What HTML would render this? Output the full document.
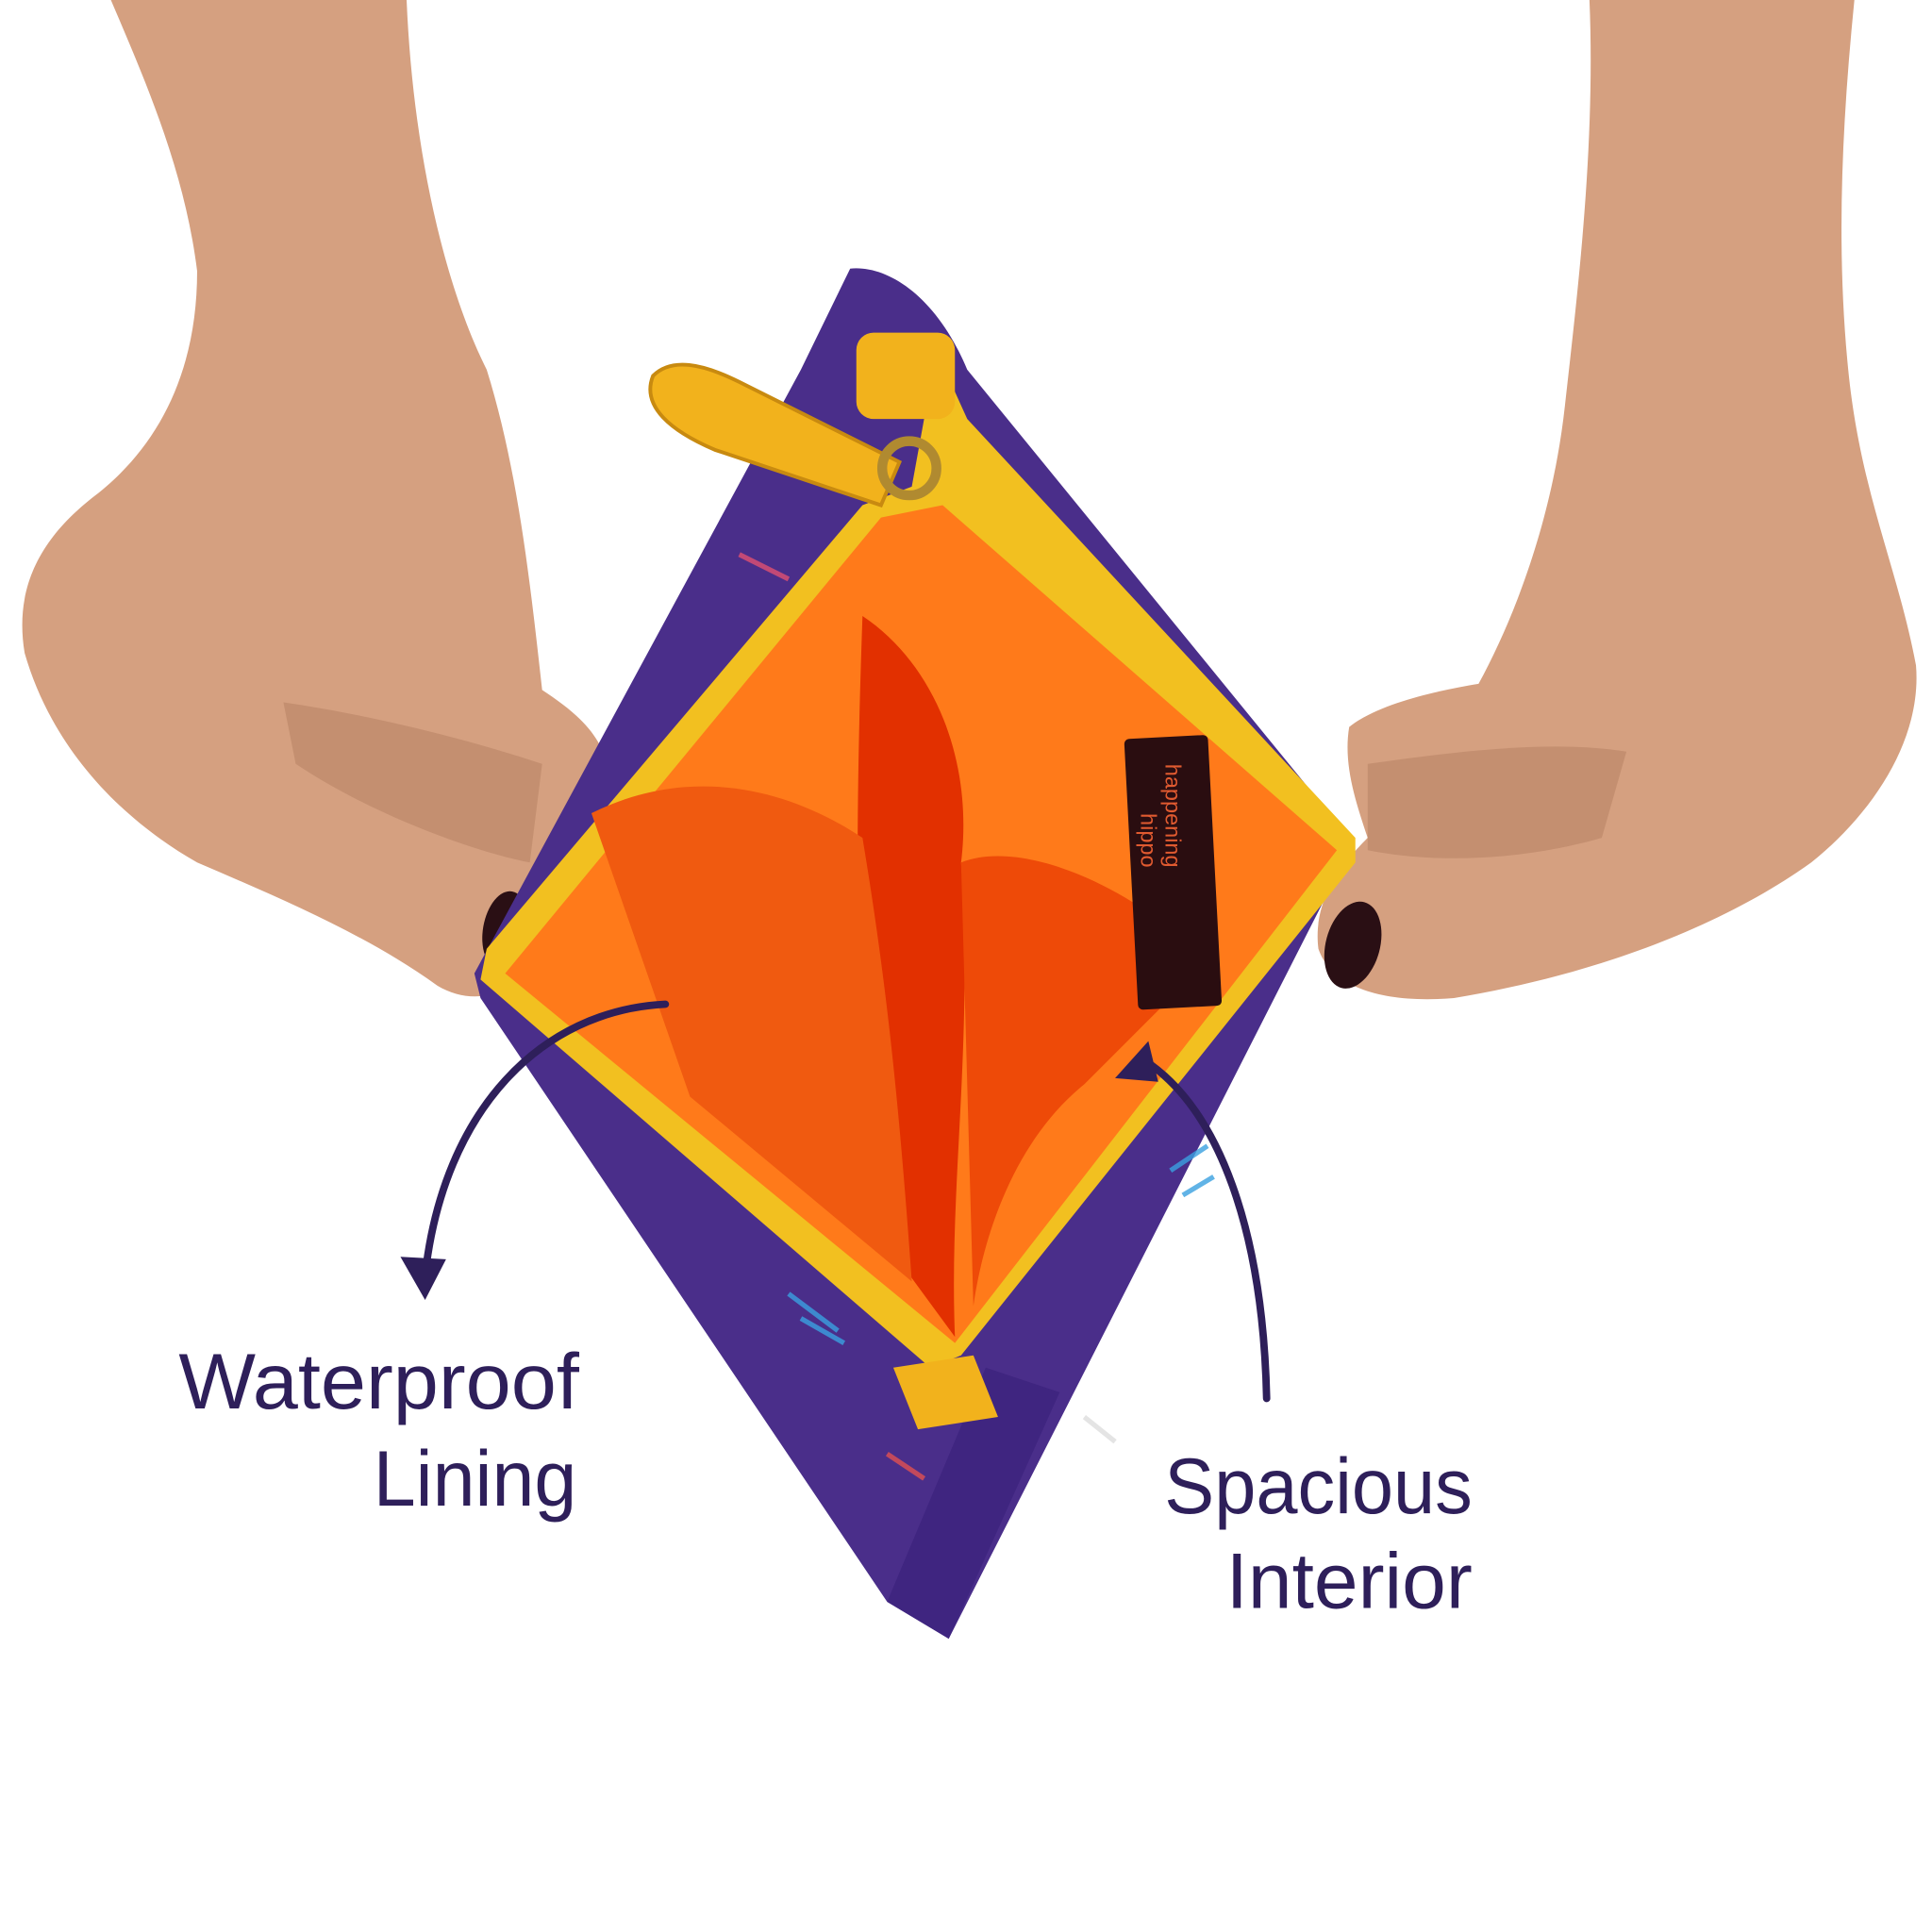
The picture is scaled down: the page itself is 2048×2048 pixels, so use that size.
<!DOCTYPE html>
<html><head><meta charset="utf-8"><style>
html,body{margin:0;padding:0;background:#fff;width:2048px;height:2048px;overflow:hidden}
svg{display:block}
text{font-family:"Liberation Sans",sans-serif;fill:#2e1f5a}
</style></head><body>
<svg width="2048" height="2048" viewBox="0 0 1568 1568" xmlns="http://www.w3.org/2000/svg">
<rect width="1568" height="1568" fill="#fff"/>
<!-- left arm & hand -->
<path d="M90,0 L330,0 C335,120 360,230 395,300 C420,380 430,470 440,560 C470,580 495,600 495,640 C480,680 430,690 425,720 L420,790 C410,810 380,815 355,800 C300,760 230,730 160,700 C90,660 40,600 20,530 C10,470 40,430 80,400 C130,360 160,300 160,220 C150,140 120,70 90,0 Z" fill="#d5a080"/>
<path d="M230,570 C300,580 380,600 440,620 L430,700 C380,690 300,660 240,620 Z" fill="#c48f70"/>
<ellipse cx="410" cy="755" rx="18" ry="32" fill="#2a0f14" transform="rotate(10 410 755)"/>
<!-- right arm & hand -->
<path d="M1290,0 L1505,0 C1495,100 1490,200 1500,300 C1510,400 1540,460 1555,540 C1560,600 1520,660 1470,700 C1400,750 1300,790 1180,810 C1120,815 1080,800 1070,770 C1065,730 1090,700 1110,680 C1100,650 1090,620 1095,590 C1120,570 1170,560 1200,555 C1230,500 1260,420 1270,330 C1280,240 1295,120 1290,0 Z" fill="#d5a080"/>
<path d="M1110,620 C1180,610 1260,600 1320,610 L1300,680 C1230,700 1160,700 1110,690 Z" fill="#c48f70"/>
<ellipse cx="1098" cy="767" rx="22" ry="36" fill="#2a0f14" transform="rotate(15 1098 767)"/>
<!-- bag outer purple -->
<path d="M690,218 C720,215 760,240 785,300 L1095,680 L1080,720 L770,1330 L720,1300 L390,810 L385,790 L650,300 Z" fill="#4a2e8a"/>
<path d="M720,1300 L770,1330 L860,1130 L800,1110 Z" fill="#3f2580"/>
<g stroke-width="4" fill="none" opacity=".8">
<path d="M640,1050 l40,30 M650,1070 l35,20" stroke="#3aa0e0"/>
<path d="M720,1180 l30,20" stroke="#e05050"/>
<path d="M950,950 l30,-20 M960,970 l25,-15" stroke="#3aa0e0"/>
<path d="M880,1150 l25,20" stroke="#ddd"/>
<path d="M600,450 l40,20" stroke="#e05070"/>
</g>
<!-- zipper yellow -->
<path d="M760,285 L785,340 L1100,680 L1100,700 L780,1100 L755,1110 L390,795 L395,770 L700,410 L740,395 Z" fill="#f2c020"/>
<!-- orange interior -->
<path d="M715,420 L765,410 L1085,690 L775,1090 L410,790 Z" fill="#ff7a1a"/>
<path d="M700,500 C760,540 790,620 780,700 C790,850 770,960 775,1085 L720,1010 C700,900 690,780 700,500 Z" fill="#e23000"/>
<path d="M480,660 C560,620 640,640 700,680 C720,800 730,900 740,1040 L560,890 Z" fill="#f05a10"/>
<path d="M780,700 C830,680 920,720 980,780 L880,880 C830,920 800,990 790,1060 Z" fill="#ee4a08"/>
<!-- label -->
<rect x="918" y="598" width="68" height="220" rx="4" fill="#2a0d10" transform="rotate(-3 952 708)"/>
<text x="0" y="0" transform="translate(946,620) rotate(90)" style="font-size:18px;fill:#e05a30">happening</text>
<text x="0" y="0" transform="translate(926,660) rotate(90)" style="font-size:18px;fill:#e05a30">hippo</text>
<!-- zip pull -->
<path d="M530,305 C545,290 570,295 600,310 L730,375 L715,410 L580,365 C545,350 520,330 530,305 Z" fill="#f2b21c" stroke="#c88a10" stroke-width="3"/>
<rect x="695" y="270" width="80" height="70" rx="14" fill="#f2b21c"/>
<circle cx="738" cy="380" r="22" fill="none" stroke="#b08a30" stroke-width="8"/>
<path d="M725,1110 L790,1100 L810,1150 L745,1160 Z" fill="#f2b21c"/>
<!-- arrows -->
<path d="M540,815 C440,820 360,900 345,1035" fill="none" stroke="#2e1f5a" stroke-width="6" stroke-linecap="round"/>
<path d="M325,1020 L362,1022 L345,1055 Z" fill="#2e1f5a"/>
<path d="M1028,1135 C1025,1000 990,900 928,860" fill="none" stroke="#2e1f5a" stroke-width="6" stroke-linecap="round"/>
<path d="M905,875 L932,845 L940,878 Z" fill="#2e1f5a"/>
<!-- text -->
<text x="145" y="1143" textLength="325" lengthAdjust="spacingAndGlyphs" style="font-size:64px">Waterproof</text>
<text x="303" y="1222" textLength="165" lengthAdjust="spacingAndGlyphs" style="font-size:64px">Lining</text>
<text x="945" y="1228" textLength="250" lengthAdjust="spacingAndGlyphs" style="font-size:64px">Spacious</text>
<text x="995" y="1305" textLength="200" lengthAdjust="spacingAndGlyphs" style="font-size:64px">Interior</text>
</svg>
</body></html>
